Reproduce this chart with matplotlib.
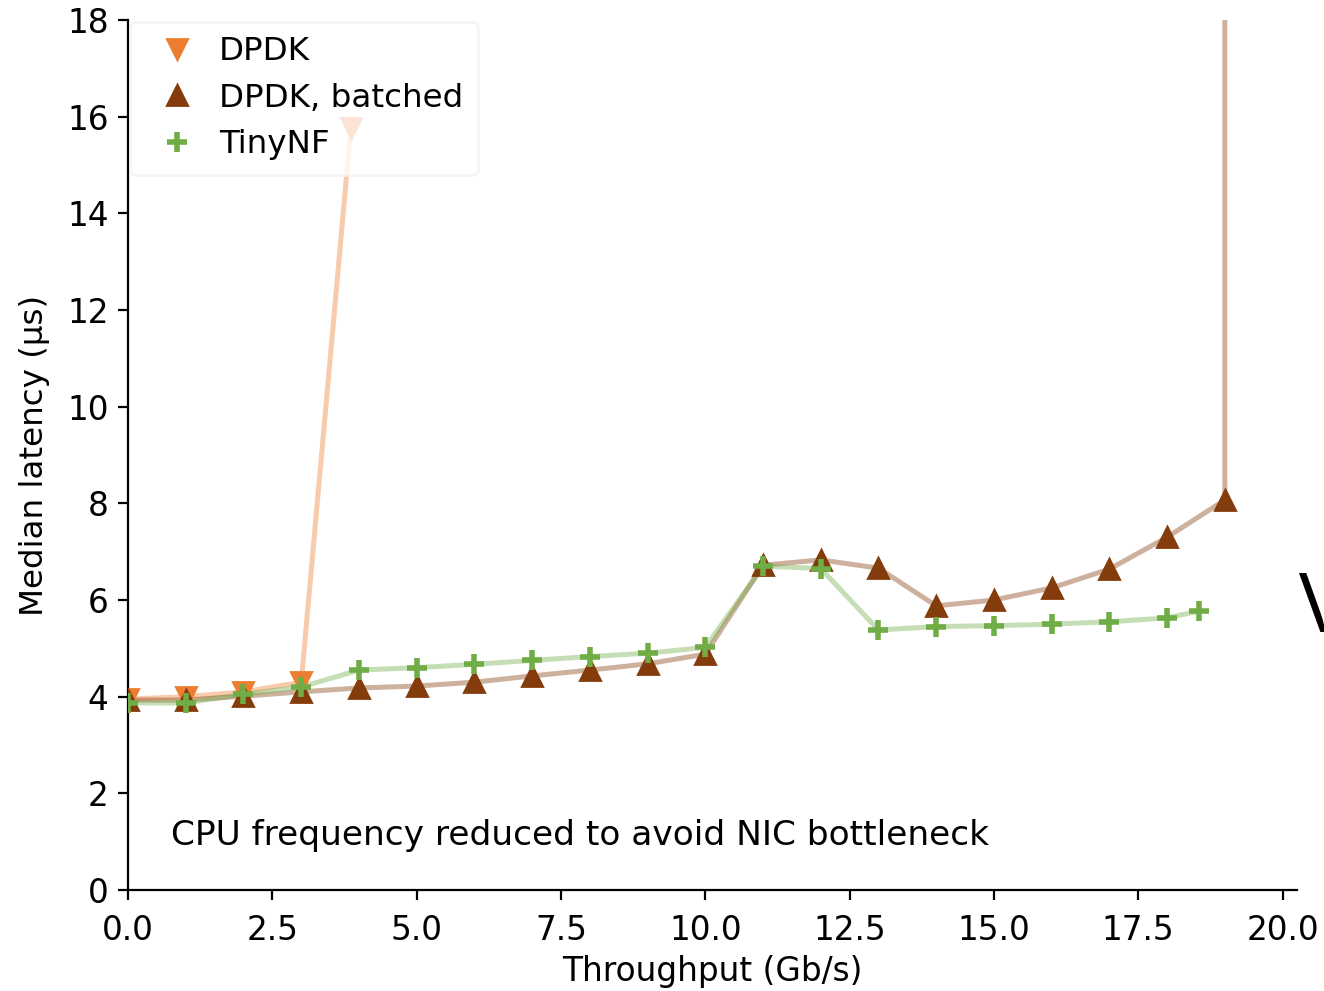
import numpy as np
import matplotlib
matplotlib.use("Agg")
import matplotlib.pyplot as plt

# ── data ───────────────────────────────────────────────────────────────────
dpdk_x = [0, 1, 2, 3, 3.86]
dpdk_y = [3.95, 4.0, 4.1, 4.3, 15.77]

batched_x = [0, 1, 2, 3, 4, 5, 6, 7, 8, 9, 10, 11, 12, 13, 14, 15, 16, 17, 18, 19, 19]
batched_y = [3.93, 3.93, 4.01, 4.1, 4.18, 4.22, 4.30, 4.43, 4.55, 4.68, 4.88,
             6.72, 6.83, 6.66, 5.88, 6.0, 6.25, 6.64, 7.30, 8.07, 30.0]

tinynf_x = [0, 1, 2, 3, 4, 5, 6, 7, 8, 9, 10, 11, 12, 13, 14, 15, 16, 17, 18, 18.55]
tinynf_y = [3.87, 3.87, 4.05, 4.2, 4.55, 4.6, 4.67, 4.75, 4.83, 4.9, 5.02,
            6.7, 6.65, 5.38, 5.45, 5.47, 5.5, 5.55, 5.63, 5.77]

C_DPDK, C_BATCH, C_TINY = "#ED7D31", "#843C0C", "#70AD47"

fig = plt.figure(figsize=(6.62, 4.955), dpi=200)
ax = fig.add_axes([0.0967, 0.1019, 0.8829, 0.8779])

series = [
    (dpdk_x, dpdk_y, C_DPDK, "v", "DPDK"),
    (batched_x, batched_y, C_BATCH, "^", "DPDK, batched"),
    (tinynf_x, tinynf_y, C_TINY, "+", "TinyNF"),
]
for xs, ys, col, mk, lab in series:
    ax.plot(xs, ys, color=col, alpha=0.4, lw=1.8, zorder=2)
for xs, ys, col, mk, lab in series:
    if mk == "+":
        ax.plot(xs, ys, ls="none", marker=mk, color=col, ms=7.5, mew=2,
                label=lab, zorder=3)
    else:
        ax.plot(xs, ys, ls="none", marker=mk, color=col, ms=7, label=lab,
                zorder=3)

ax.set_xlim(0, 20.25)
ax.set_ylim(0, 18)
ax.set_yticks(np.arange(0, 19, 2))
ax.set_xticks(np.arange(0, 20.1, 2.5))
ax.spines["top"].set_visible(False)
ax.spines["right"].set_visible(False)
ax.tick_params(labelsize=11.8)
ax.tick_params(axis="x", pad=5)

ax.set_xlabel("Throughput (Gb/s)", fontsize=11.8, labelpad=3)
ax.set_ylabel("Median latency (µs)", fontsize=11.7, labelpad=6)

ax.text(0.75, 0.93, "CPU frequency reduced to avoid NIC bottleneck",
        fontsize=12.4, va="baseline")
fig.text(0.981, 0.362, "V", fontsize=30, family="Open Sans", va="baseline")

leg = ax.legend(loc="upper left", fontsize=11.7, handletextpad=0.3,
                borderpad=0.45, labelspacing=0.48, borderaxespad=0.05)
leg.get_frame().set_edgecolor("#f3f3f3")

fig.savefig("out.png", dpi=200)
